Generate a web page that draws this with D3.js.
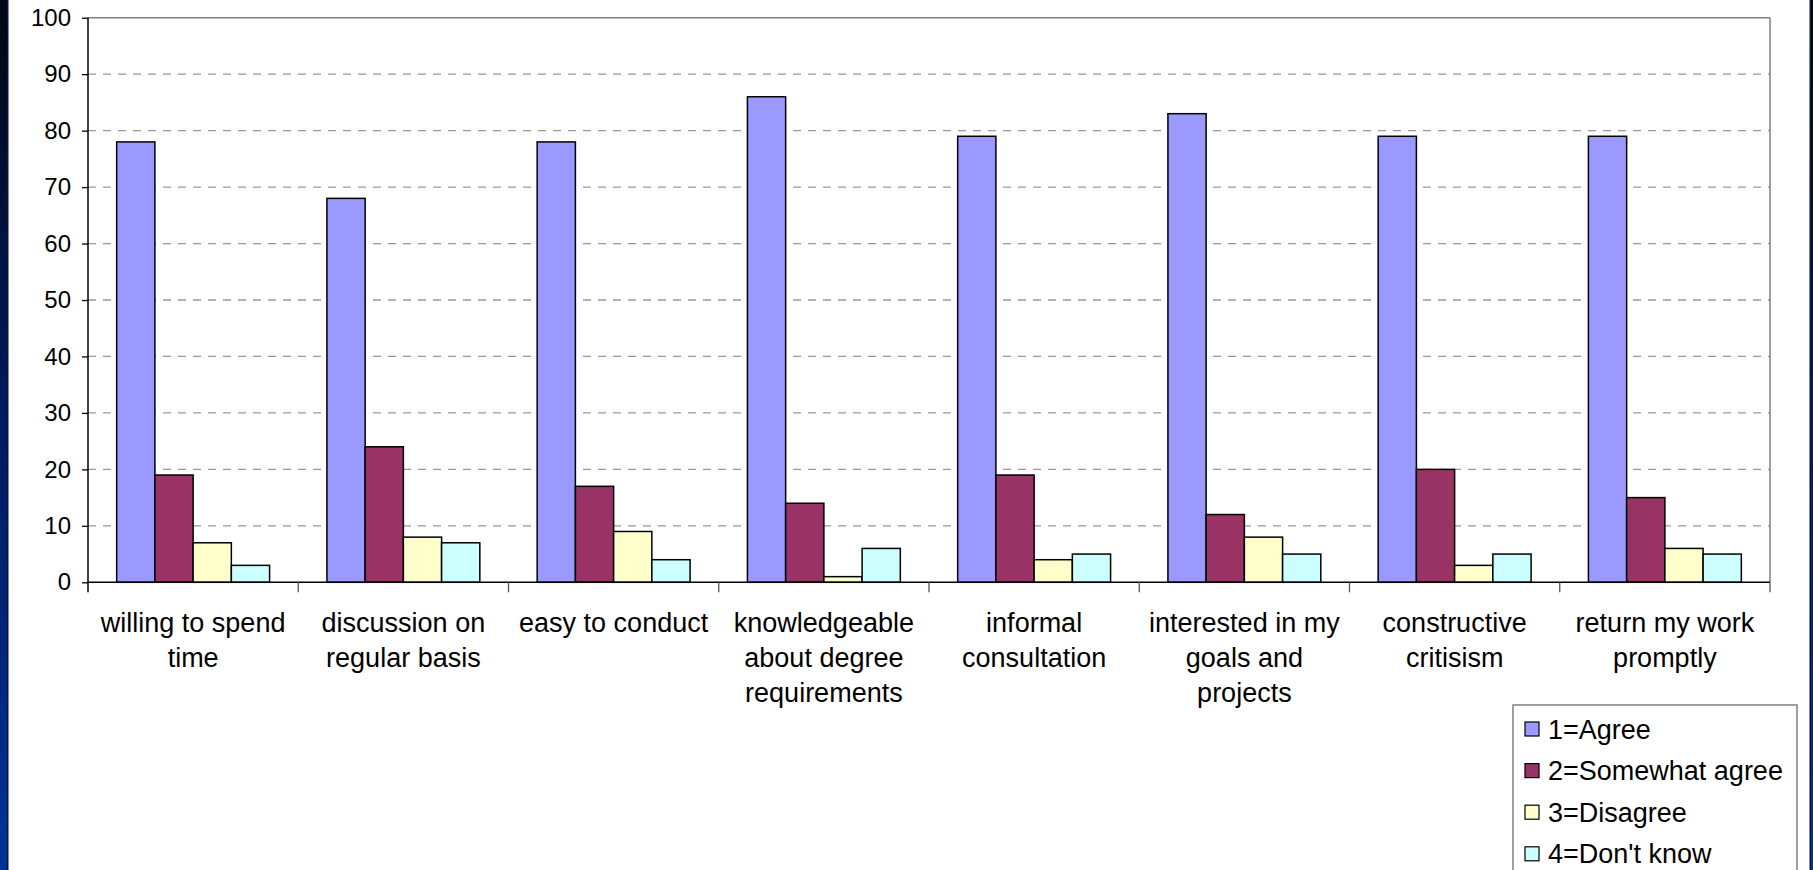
<!DOCTYPE html>
<html>
<head>
<meta charset="utf-8">
<script src="https://cdn.jsdelivr.net/npm/d3@7"></script>
<style>
html, body { margin: 0; padding: 0; background: #ffffff; overflow: hidden; }
svg { display: block; }
text { font-family: "Liberation Sans", Arial, sans-serif; fill: #000; }
</style>
</head>
<body>
<svg id="chart" width="1813" height="870"></svg>
<script>
// ---- data ----
const categories = [
  "willing to spend\ntime",
  "discussion on\nregular basis",
  "easy to conduct",
  "knowledgeable\nabout degree\nrequirements",
  "informal\nconsultation",
  "interested in my\ngoals and\nprojects",
  "constructive\ncritisism",
  "return my work\npromptly"
];
const seriesNames = ["1=Agree", "2=Somewhat agree", "3=Disagree", "4=Don't know"];
const agree     = [78, 68, 78, 86, 79, 83, 79, 79];
const somewhat  = [19, 24, 17, 14, 19, 12, 20, 15];
const disagree  = [7, 8, 9, 1, 4, 8, 3, 6];
const dontKnow  = [3, 7, 4, 6, 5, 5, 5, 5];
const yTicks = [0, 10, 20, 30, 40, 50, 60, 70, 80, 90, 100];
const seriesColors = ["#9999FF", "#993366", "#FFFFCC", "#CCFFFF"];

const seriesValues = [agree, somewhat, disagree, dontKnow];

// ---- layout ----
const W = 1813, H = 870;
const plot = { left: 88, right: 1770, top: 17.7, bottom: 582.3 };

const svg = d3.select("#chart");

// slide border strips (gradient)
const defs = svg.append("defs");
const grad = defs.append("linearGradient").attr("id", "strip").attr("x1", 0).attr("y1", 0).attr("x2", 0).attr("y2", 1);
grad.append("stop").attr("offset", "0%").attr("stop-color", "#000814");
grad.append("stop").attr("offset", "45%").attr("stop-color", "#00195a");
grad.append("stop").attr("offset", "100%").attr("stop-color", "#003399");
svg.append("rect").attr("x", 0).attr("y", 0).attr("width", 7).attr("height", H).attr("fill", "url(#strip)");
svg.append("rect").attr("x", 7).attr("y", 0).attr("width", 1.5).attr("height", H).attr("fill", "#0a1530");
svg.append("rect").attr("x", 1811).attr("y", 0).attr("width", 2).attr("height", H).attr("fill", "url(#strip)");
svg.append("rect").attr("x", 1809.5).attr("y", 0).attr("width", 1.5).attr("height", H).attr("fill", "#0a1530");

// scales
const x0 = d3.scaleBand().domain(categories).range([plot.left, plot.right]).paddingInner(0).paddingOuter(0);
const x1 = d3.scaleBand().domain(seriesNames).range([0, x0.bandwidth()]).paddingInner(0).paddingOuter(0.75);
const y = d3.scaleLinear().domain([0, 100]).range([plot.bottom, plot.top]);

// gridlines
svg.append("g").selectAll("line")
  .data(yTicks.filter(t => t > 0 && t < 100))
  .join("line")
  .attr("x1", plot.left).attr("x2", plot.right)
  .attr("y1", d => y(d)).attr("y2", d => y(d))
  .attr("stroke", "#999999").attr("stroke-width", 1.3)
  .attr("stroke-dasharray", "8,7");

// plot border (top and right)
svg.append("line").attr("x1", plot.left).attr("x2", plot.right).attr("y1", y(100)).attr("y2", y(100))
  .attr("stroke", "#808080").attr("stroke-width", 1.5);
svg.append("line").attr("x1", plot.right).attr("x2", plot.right).attr("y1", y(100)).attr("y2", y(0))
  .attr("stroke", "#808080").attr("stroke-width", 1.5);

// bars
const groups = svg.append("g").selectAll("g")
  .data(categories)
  .join("g")
  .attr("transform", c => `translate(${x0(c)},0)`);

groups.selectAll("rect")
  .data((c, i) => seriesNames.map((s, k) => ({ s, v: seriesValues[k][i], color: seriesColors[k] })))
  .join("rect")
  .attr("x", d => x1(d.s))
  .attr("width", x1.bandwidth())
  .attr("y", d => y(d.v))
  .attr("height", d => y(0) - y(d.v))
  .attr("fill", d => d.color)
  .attr("stroke", "#000")
  .attr("stroke-width", 1.5);

// y axis
const yAxis = d3.axisLeft(y).tickValues(yTicks).tickSize(6).tickPadding(11).tickFormat(d3.format("d"));
const gy = svg.append("g").attr("transform", `translate(${plot.left},0)`).call(yAxis);
gy.select(".domain").attr("stroke", "#000").attr("stroke-width", 1.5)
  .attr("d", `M0,${y(100)}V${y(0) + 10}`);
gy.selectAll(".tick line").attr("stroke", "#000").attr("stroke-width", 1.3);
gy.selectAll(".tick text").style("font-family", "'Liberation Sans', Arial, sans-serif").style("font-size", "24px").attr("fill", "#000");

// x axis line
svg.append("line").attr("x1", plot.left).attr("x2", plot.right).attr("y1", y(0)).attr("y2", y(0))
  .attr("stroke", "#000").attr("stroke-width", 1.5);

// category boundary ticks
const boundaries = categories.map(c => x0(c) + x0.bandwidth());
svg.append("g").selectAll("line")
  .data(boundaries)
  .join("line")
  .attr("x1", d => d).attr("x2", d => d)
  .attr("y1", y(0)).attr("y2", y(0) + 10)
  .attr("stroke", "#555").attr("stroke-width", 1.3);

// category labels
const labels = svg.append("g").selectAll("text")
  .data(categories)
  .join("text")
  .attr("text-anchor", "middle")
  .style("font-size", "27px")
  .attr("transform", c => `translate(${x0(c) + x0.bandwidth() / 2},${y(0) + 50})`);
labels.selectAll("tspan")
  .data(c => c.split("\n"))
  .join("tspan")
  .attr("x", 0)
  .attr("y", (d, i) => i * 34.8)
  .text(d => d);

// legend
const legend = svg.append("g").attr("transform", "translate(1513,705)");
legend.append("rect").attr("x", 0).attr("y", 0).attr("width", 284).attr("height", 220)
  .attr("fill", "#fff").attr("stroke", "#808080").attr("stroke-width", 1.5);
const items = legend.selectAll("g.item")
  .data(seriesNames)
  .join("g")
  .attr("class", "item")
  .attr("transform", (d, i) => `translate(0,${24 + i * 41.6})`);
items.append("rect")
  .attr("x", 12).attr("y", -7).attr("width", 14).attr("height", 14)
  .attr("fill", (d, i) => seriesColors[i]).attr("stroke", "#000").attr("stroke-width", 1.2);
items.append("text")
  .attr("x", 35).attr("y", 9.5)
  .style("font-size", "27px")
  .text(d => d);
</script>
</body>
</html>
